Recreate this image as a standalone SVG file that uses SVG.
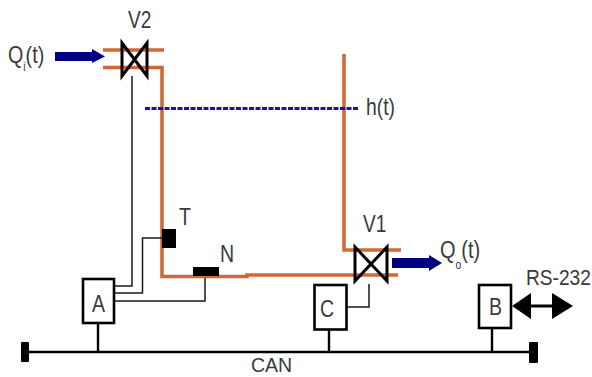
<svg xmlns="http://www.w3.org/2000/svg" width="592" height="377" viewBox="0 0 592 377">
<style>
.p{fill:none;stroke:#cf6a36;stroke-width:3.600}
.w{fill:none;stroke:#1a1a1a;stroke-width:1.500}
.b{fill:none;stroke:#000;stroke-width:2.400}
.v{fill:none;stroke:#000;stroke-width:3}
.n{fill:#fff;stroke:#000;stroke-width:2.600}
text{font-family:"Liberation Sans",Arial,sans-serif;fill:#3a3a3a;font-size:23px}
</style>
<rect width="592" height="377" fill="#fff"/>
<g id="connectors">
<path class="p" d="M103 50H164"/>
<path class="p" d="M103 67.500H162V276.500H205"/>
<path class="p" d="M205 276.500H247V275H398"/>
<path class="p" d="M344 54V250H401"/>
<path d="M145 108.500H358" fill="none" stroke="#2a0aa0" stroke-width="2.800" stroke-dasharray="5 1.500"/>
<path class="w" d="M132 76V286H114"/>
<path class="w" d="M162 238H142.500V293H114"/>
<path class="w" d="M205 278V301H114"/>
<path class="w" d="M369 284V307H347"/>
<path class="b" d="M98 323V352"/>
<path class="b" d="M329 330V352"/>
<path class="b" d="M492 328V352"/>
<path class="b" d="M25 352H534"/>
<rect x="21" y="342" width="8" height="20" rx="1"/>
<rect x="529" y="342" width="9" height="21" rx="1"/>
<path d="M55 52H92V49L105 56.500L92 63V61H55Z" fill="#000080"/>
<path d="M392 258H429V255L442 263L429 271V268H392Z" fill="#000080"/>
<path d="M512 306L531 293V304.500H552V293L573 306L552 319V307.500H531V319Z"/>
</g>
<g id="V2"><path class="v" d="M122 43L147 76V43L122 76Z"/><text transform="translate(128 28) scale(.83 1)">V2</text></g>
<g id="V1"><path class="v" d="M355 247L387 281V247L355 281Z"/><text transform="translate(363 232) scale(.83 1)">V1</text></g>
<g id="T"><rect x="162" y="229" width="14" height="19"/><text transform="translate(179 225) scale(.85 1)">T</text></g>
<g id="N"><rect x="193" y="267" width="26" height="9"/><text transform="translate(220 262) scale(.85 1)">N</text></g>
<g id="A"><rect class="n" x="83" y="279" width="31" height="44"/><text transform="translate(92 312) scale(.85 1)">A</text></g>
<g id="C"><rect class="n" x="314.500" y="285" width="32" height="44.500"/><text transform="translate(320 317) scale(.85 1)">C</text></g>
<g id="B"><rect class="n" x="479" y="285" width="32" height="43"/><text transform="translate(489 315) scale(.85 1)">B</text></g>
<g id="labels">
<text transform="translate(8 63) scale(.857 1)">Q<tspan font-size="12" style="font-size:12px" dy="8">i</tspan><tspan dy="-8">(t)</tspan></text>
<text transform="translate(366 115) scale(.84 1)">h(t)</text>
<text transform="translate(440 258) scale(.87 1)">Q<tspan style="font-size:12px" dy="11">o</tspan><tspan dy="-11">(t)</tspan></text>
<text transform="translate(526 285) scale(.87 1)" style="font-size:22px">RS-232</text>
<text transform="translate(251 372) scale(.93 1)" style="font-size:21px">CAN</text>
</g>
</svg>
